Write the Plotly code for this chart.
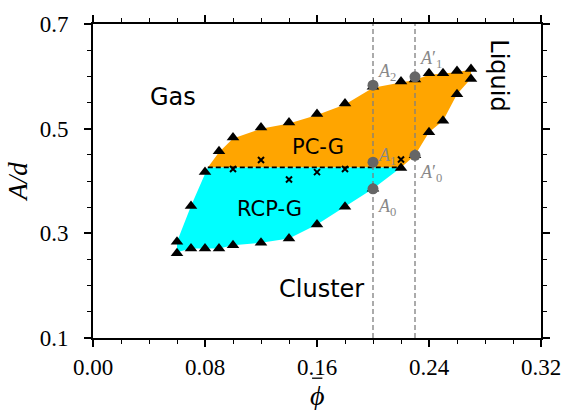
import plotly.graph_objects as go

# ---- data ----
# triangle markers (phase boundary points)
tri_phi = [0.06, 0.06, 0.07, 0.07, 0.08, 0.09, 0.10, 0.12, 0.14, 0.16, 0.18, 0.20, 0.22,
           0.08, 0.09, 0.10, 0.12, 0.14, 0.16, 0.18, 0.20, 0.22, 0.23, 0.24, 0.25, 0.26, 0.27,
           0.27, 0.26, 0.25, 0.24, 0.23]
tri_A = [0.262, 0.284, 0.352, 0.271, 0.271, 0.271, 0.277, 0.282, 0.290, 0.317, 0.351, 0.385, 0.425,
         0.417, 0.457, 0.483, 0.502, 0.512, 0.528, 0.548, 0.580, 0.590, 0.594, 0.606, 0.606, 0.610, 0.614,
         0.595, 0.566, 0.515, 0.493, 0.449]

# cross markers
x_phi = [0.10, 0.12, 0.14, 0.16, 0.18, 0.22]
x_A = [0.423, 0.440, 0.403, 0.417, 0.423, 0.441]

# PC-G region boundary
pcg_phi = [0.082, 0.09, 0.10, 0.12, 0.14, 0.16, 0.18, 0.20, 0.22, 0.23, 0.24, 0.25, 0.26, 0.27,
           0.27, 0.26, 0.25, 0.24, 0.23, 0.22, 0.082]
pcg_A = [0.426, 0.455, 0.481, 0.500, 0.510, 0.526, 0.546, 0.578, 0.588, 0.593, 0.603, 0.605, 0.608, 0.613,
         0.596, 0.566, 0.515, 0.493, 0.449, 0.426, 0.426]

# RCP-G region boundary
rcpg_phi = [0.082, 0.22, 0.20, 0.18, 0.16, 0.14, 0.12, 0.10, 0.09, 0.08, 0.07, 0.06, 0.06, 0.07, 0.08, 0.082]
rcpg_A = [0.426, 0.426, 0.385, 0.351, 0.317, 0.290, 0.282, 0.277, 0.271, 0.271, 0.271, 0.264, 0.284, 0.352, 0.416, 0.426]

# coexistence dashed line
coex_phi = [0.082, 0.22]
coex_A = [0.426, 0.426]

# vertical reference lines
vline_phi = [0.20, 0.23]

# labelled state points
pt_phi = [0.20, 0.20, 0.20, 0.23, 0.23]
pt_A = [0.583, 0.436, 0.385, 0.599, 0.449]
pt_label = ["<i>A</i><sub>2</sub>", "<i>A</i><sub>1</sub>", "<i>A</i><sub>0</sub>",
            "<i>A</i>′<sub>1</sub>", "<i>A</i>′<sub>0</sub>"]
pt_yshift = [13, 6, -19, 17, -18]

# region labels
reg_text = ["Gas", "PC-G", "RCP-G", "Cluster", "Liquid"]
reg_phi = [0.057, 0.161, 0.126, 0.163, 0.290]
reg_A = [0.560, 0.465, 0.347, 0.193, 0.602]
reg_size = [24, 21, 21, 24, 24]
reg_angle = [0, 0, 0, 0, 90]

x_ticks = [0.00, 0.08, 0.16, 0.24, 0.32]
x_ticktext = ["0.00", "0.08", "0.16", "0.24", "0.32"]
y_ticks = [0.1, 0.3, 0.5, 0.7]
y_ticktext = ["0.1", "0.3", "0.5", "0.7"]

SERIF = "Liberation Serif, Times New Roman, serif"

# ---- figure ----
fig = go.Figure()

fig.add_trace(go.Scatter(x=pcg_phi, y=pcg_A, mode="lines", fill="toself",
                         fillcolor="#FFA500", line=dict(width=0, color="#FFA500"),
                         hoverinfo="skip"))
fig.add_trace(go.Scatter(x=rcpg_phi, y=rcpg_A, mode="lines", fill="toself",
                         fillcolor="#00FFFF", line=dict(width=0, color="#00FFFF"),
                         hoverinfo="skip"))
fig.add_trace(go.Scatter(x=coex_phi, y=coex_A, mode="lines",
                         line=dict(color="black", width=1.8, dash="5px,3px")))
for v in vline_phi:
    fig.add_trace(go.Scatter(x=[v, v], y=[0.1, 0.7], mode="lines",
                             line=dict(color="#7f7f7f", width=1.3, dash="5px,3px")))
fig.add_trace(go.Scatter(x=tri_phi, y=tri_A, mode="markers",
                         marker=dict(symbol="triangle-up", size=11, color="black"),
                         cliponaxis=False))
fig.add_trace(go.Scatter(x=x_phi, y=x_A, mode="markers",
                         marker=dict(symbol="x-thin-open", size=6, color="black",
                                     line=dict(width=2, color="black"))))
fig.add_trace(go.Scatter(x=pt_phi, y=pt_A, mode="markers",
                         marker=dict(symbol="circle", size=11, color="#666666")))

for px, py, lab, ys in zip(pt_phi, pt_A, pt_label, pt_yshift):
    fig.add_annotation(x=px, y=py, text=lab, showarrow=False, xanchor="left", yanchor="middle",
                       xshift=3, yshift=ys,
                       font=dict(family=SERIF, size=18, color="#888888"))

for t, px, py, s, a in zip(reg_text, reg_phi, reg_A, reg_size, reg_angle):
    fig.add_annotation(x=px, y=py, text=t, showarrow=False, textangle=a,
                       font=dict(family="DejaVu Sans", size=s, color="black"))

# x-axis title: italic phi with an overbar (bar drawn as a short line)
fig.add_annotation(x=0.5, y=-0.184, xref="paper", yref="paper", text="<i>ϕ</i>", showarrow=False,
                   xanchor="center", yanchor="middle",
                   font=dict(family=SERIF, size=28, color="black"))
fig.add_shape(type="line", xref="paper", yref="paper", x0=0.489, x1=0.512, y0=-0.128, y1=-0.128,
              line=dict(color="black", width=1.3))

axis_common = dict(showgrid=False, zeroline=False, showline=True, linecolor="black", linewidth=2,
                   mirror="allticks", ticks="outside", ticklen=7, tickwidth=1.6, tickcolor="black")

fig.update_xaxes(range=[0, 0.32], tickvals=x_ticks, ticktext=x_ticktext,
                 tickfont=dict(family=SERIF, size=23, color="black"),
                 minor=dict(dtick=0.02, tick0=0, ticks="outside", ticklen=4, tickwidth=1.2,
                            tickcolor="black", showgrid=False),
                 **axis_common)
fig.update_yaxes(range=[0.1, 0.7], tickvals=y_ticks, ticktext=y_ticktext,
                 tickfont=dict(family=SERIF, size=23, color="black"), ticklabelstandoff=11,
                 minor=dict(dtick=0.05, tick0=0.1, ticks="outside", ticklen=4, tickwidth=1.2,
                            tickcolor="black", showgrid=False),
                 title=dict(text="<i>A/d</i>", standoff=4,
                            font=dict(family=SERIF, size=27, color="black")),
                 **axis_common)

fig.update_layout(width=576, height=410, margin=dict(l=93, r=35, t=15, b=72),
                  plot_bgcolor="white", paper_bgcolor="white", showlegend=False,
                  font=dict(family=SERIF))

fig.write_html("out.html")
